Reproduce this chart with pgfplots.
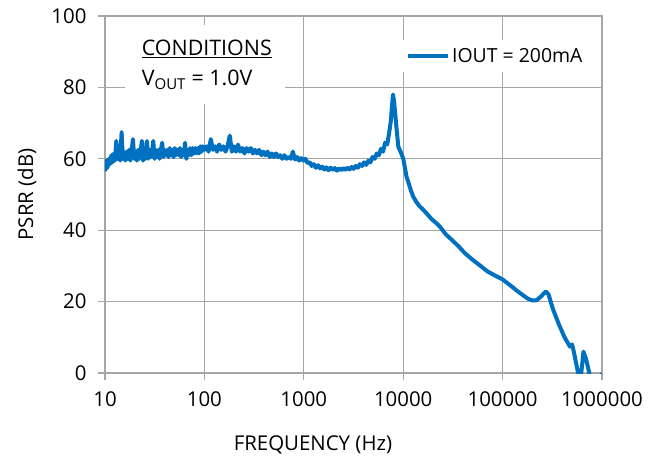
\documentclass[border=0pt]{standalone}
\usepackage{pgfplots}
\pgfplotsset{compat=1.18}
\usepackage{fontspec}
\setmainfont{Open Sans}
\definecolor{psrrblue}{RGB}{0,112,192}
\definecolor{gridgray}{RGB}{166,166,166}
\begin{document}
\begin{tikzpicture}
\begin{axis}[name=ax,
  scale only axis, width=497bp, height=357bp,
  xmode=log, log basis x=10,
  xmin=10, xmax=1000000, ymin=0, ymax=100,
  xtick={10,100,1000,10000,100000,1000000},
  xticklabels={10,100,1000,10000,100000,1000000},
  ytick={0,20,40,60,80,100},
  yticklabels={0,20,40,60,80,100},
  minor xtick={}, minor ytick={},
  grid=major,
  major grid style={gridgray, line width=1.2bp},
  axis line style={gridgray, line width=1.2bp},
  tick style={gridgray, line width=1.2bp},
  tick align=outside, tick pos=left,
  major tick length=7bp,
  ticklabel style={font=\fontsize{20.5}{24}\selectfont},
  xticklabel style={yshift=-8bp},
  yticklabel style={xshift=-8bp},
  xlabel={FREQUENCY (Hz)},
  ylabel={PSRR (dB)},
  label style={font=\fontsize{20.5}{24}\selectfont},
  xlabel style={at={(axis description cs:0.4185,-0.2017)}, anchor=center},
  ylabel style={at={(axis description cs:-0.157,0.5)}, anchor=center},
  legend style={at={(rel axis cs:0.5895,0.9328)}, anchor=north west, draw=none, fill=white,
    font=\fontsize{19.5}{22}\selectfont, inner xsep=8bp, inner ysep=6bp},
  legend image code/.code={\draw[#1] (0bp,0bp) -- (40bp,0bp);},
  clip=true,
]
\fill[white] (rel axis cs:0.0402,0.975) rectangle (rel axis cs:0.362,0.7535);
\node[anchor=base west, font=\fontsize{21.5}{24}\selectfont, inner sep=0pt] at (rel axis cs:0.0738,0.888) {\underline{CONDITIONS}};
\node[anchor=base west, font=\fontsize{21.5}{24}\selectfont, inner sep=0pt] at (rel axis cs:0.0738,0.804) {V\textsubscript{OUT} = 1.0V};
\addplot[psrrblue, line width=4bp, line join=round] table {
x y
10 56.5
10.3 59.5
10.6 57.5
10.9 60
11.2 58.5
11.6 61
11.9 59
12.3 61.5
12.6 59.5
13.0 65
13.4 60
13.8 61.5
14.2 59.5
14.7 67.5
15.1 60
15.5 62
16.0 59.5
16.5 62
17.0 60
17.5 62.5
18.0 59.5
18.5 62
19.1 65.5
19.7 60
20.3 62
20.9 59.5
21.5 62.5
22.1 60
22.8 62
23.5 65
24.2 59.5
24.9 62
25.6 60
26.4 65
27.2 60
28.0 62.5
28.8 60.5
29.7 62
30.6 65
31.5 60
32.4 62.5
33.4 60.5
34.4 62.5
35.4 60
36.5 62.5
37.6 64.5
38.7 60.5
39.8 62.5
41.0 61
42.2 62.5
43.5 60.5
44.8 63
46.1 61
47.5 62.5
48.9 60.5
50.4 63
51.9 61
53.5 62.5
55.1 61
56.7 63
58.4 60.5
60.2 62.5
62.0 61
63.9 64.5
65.8 60
67.7 62.5
69.8 61
71.9 63
74.0 61
76.2 63
78.5 61.5
80.9 63
83.3 61.5
85.8 63
88.4 61.5
91.0 63.5
93.7 62
96.5 63.5
100 62.5
105 63.5
110 62
116 65.5
122 62.5
128 63.5
134 62
141 64
148 62.5
155 63.5
163 62
171 63.5
180 66.5
189 62
198 63.5
208 62
218 64
229 62
241 63
253 61.5
265 63
279 62
293 63
307 61.5
323 62.5
339 61.5
356 62.5
374 61
392 62
412 61
432 62
454 60.5
477 61.5
500 60.5
525 61.5
552 60.5
579 61
608 60
639 61
670 60
704 60.5
739 60
776 62
815 59.8
856 60.5
899 59.5
944 60.2
991 59.5
1040 60
1090 58.8
1150 59
1200 58
1260 58.5
1320 57.5
1390 58.2
1460 57.3
1530 57.8
1610 57
1690 57.6
1770 56.8
1860 57.5
1950 56.9
2050 57.4
2150 56.7
2260 57.3
2370 56.8
2490 57.4
2610 56.9
2740 57.5
2880 57
3020 57.7
3170 57.2
3330 58
3500 57.5
3670 58.5
3850 58
4050 59
4250 58.3
4460 59.5
4680 59
4910 60.5
5160 60
5420 61.5
5690 61
5970 62.8
6270 62
6580 64.5
6900 64
7200 67
7500 70.5
7700 74.5
7900 78
8100 76
8300 72.8
8600 68
8930 63.4
9400 62
10000 60.1
10400 57.5
10800 55
11400 53
12000 51
12600 49.4
13500 48
14500 46.8
15800 45.8
17200 44.7
19500 43
21500 42
23400 41
26500 39
30800 37.3
36000 35.5
42000 33.5
50000 31.7
60000 30
70000 28.5
80000 27.6
100000 26.2
120000 24.5
140000 23
160000 21.8
180000 20.8
200000 20.3
220000 20.4
245000 21.5
260000 22.3
273000 22.8
290000 22
320000 18
370000 13.5
420000 10
476000 7.4
500000 8
520000 6
575000 0
600000 -3
630000 2
650000 6
690000 4
745000 0
800000 -5
900000 -6
1000000 0
};
\addlegendentry{IOUT = 200mA}
\end{axis}
\pgfresetboundingbox
\path[use as bounding box] ([shift={(-105bp,-86bp)}]ax.south west) rectangle ([shift={(64bp,16bp)}]ax.north east);
\end{tikzpicture}
\end{document}
